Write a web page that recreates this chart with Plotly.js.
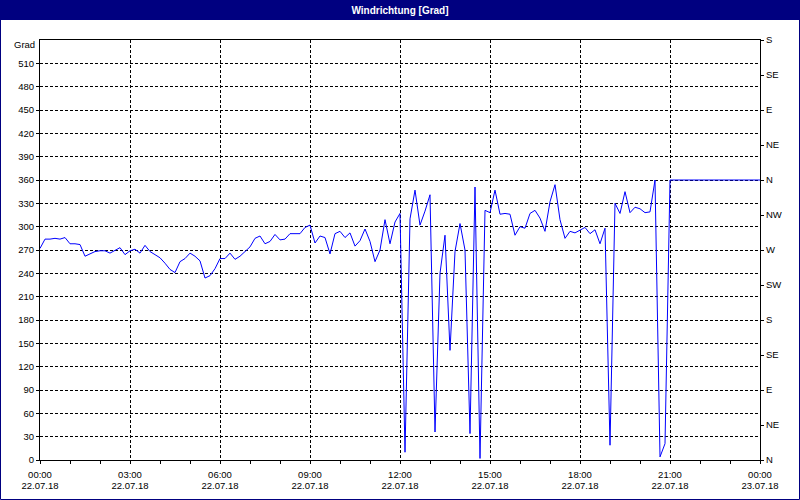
<!DOCTYPE html>
<html>
<head>
<meta charset="utf-8">
<script src="https://cdn.plot.ly/plotly-3.0.1.min.js"></script>
<style>html,body{margin:0;padding:0;background:#fff;}#chart{width:800px;height:500px;}</style>
</head>
<body>
<div id="chart"></div>
<script>
// ---- data ----
var dayStart = "2018-07-22";
var dayEnd = "2018-07-23 00:00";
var times = [
 "00:00","00:10","00:20","00:30","00:40","00:50",
 "01:00","01:10","01:20","01:30","01:40","01:50",
 "02:00","02:10","02:20","02:30","02:40","02:50",
 "03:00","03:10","03:20","03:30","03:40","03:50",
 "04:00","04:10","04:20","04:30","04:40","04:50",
 "05:00","05:10","05:20","05:30","05:40","05:50",
 "06:00","06:10","06:20","06:30","06:40","06:50",
 "07:00","07:10","07:20","07:30","07:40","07:50",
 "08:00","08:10","08:20","08:30","08:40","08:50",
 "09:00","09:10","09:20","09:30","09:40","09:50",
 "10:00","10:10","10:20","10:30","10:40","10:50",
 "11:00","11:10","11:20","11:30","11:40","11:50",
 "12:00","12:10","12:20","12:30","12:40","12:50",
 "13:00","13:10","13:20","13:30","13:40","13:50",
 "14:00","14:10","14:20","14:30","14:40","14:50",
 "15:00","15:10","15:20","15:30","15:40","15:50",
 "16:00","16:10","16:20","16:30","16:40","16:50",
 "17:00","17:10","17:20","17:30","17:40","17:50",
 "18:00","18:10","18:20","18:30","18:40","18:50",
 "19:00","19:10","19:20","19:30","19:40","19:50",
 "20:00","20:10","20:20","20:30","20:40","20:50",
 "21:00"
];
var windDir = [
 272,284,284,285,284,286,
 278,278,277,262,265,268,
 269,269,266,269,273,264,
 269,271,266,276,268,264,
 260,253,245,241,255,259,
 266,262,256,234,237,246,
 259,259,266,258,262,268,
 274,285,288,278,281,290,
 283,284,291,291,291,299,
 302,279,288,286,265,291,
 294,286,292,275,282,297,
 281,255,270,309,278,306,
 317,10,310,347,302,320,
 341,36,240,289,141,268,
 304,270,34,351,2,321,
 318,347,316,317,316,289,
 300,298,317,321,311,294,
 332,354,309,285,294,292,
 296,299,291,296,278,298,
 19,330,317,345,318,325,
 323,318,319,360,4,21,
 360
];
var endValue = 360;

var xTickTimes = ["00:00","03:00","06:00","09:00","12:00","15:00","18:00","21:00","00:00"];
var xTickDates = ["22.07.18","22.07.18","22.07.18","22.07.18","22.07.18","22.07.18","22.07.18","22.07.18","23.07.18"];
var yTicks = [0,30,60,90,120,150,180,210,240,270,300,330,360,390,420,450,480,510,540];
var compassVals = [0,45,90,135,180,225,270,315,360,405,450,495,540];
var compassText = ["N","NE","E","SE","S","SW","W","NW","N","NE","E","SE","S"];
var yUnit = "Grad";
var titleText = "Windrichtung [Grad]";

// ---- build ----
var xs = times.map(function(t){ return dayStart + " " + t; });
xs.push(dayEnd);
var ys = windDir.slice();
ys.push(endValue);

var tickPos = [];
for (var i = 0; i < 8; i++) tickPos.push(dayStart + " " + xTickTimes[i]);
tickPos.push(dayEnd);

var FONT = "Liberation Sans, Arial, sans-serif";
var tf = {family: FONT, size: 9.5, color: "#000"};
var NAVY = "#000080";

function px(x){ return (x - 40) / 720; }
function py(y){ return (460 - y) / 420; }

var traces = [
  {x: xs, y: ys, type: "scatter", mode: "lines", line: {color: "#0000ff", width: 1},
   xaxis: "x", yaxis: "y", showlegend: false, hoverinfo: "x+y"},
  {x: [xs[0]], y: [0], type: "scatter", mode: "markers", marker: {opacity: 0, size: 1},
   xaxis: "x2", yaxis: "y2", showlegend: false, hoverinfo: "skip"}
];

var layout = {
  width: 800, height: 500,
  margin: {l: 40, r: 40, t: 40, b: 40, pad: 0},
  paper_bgcolor: "#fff", plot_bgcolor: "#fff",
  showlegend: false,
  title: {text: "<b>" + titleText + "</b>", font: {family: FONT, size: 10, color: "#fff"},
          x: 0.5, xanchor: "center", xref: "paper", y: 1 - 10/500, yref: "container", yanchor: "middle"},
  xaxis: {
    type: "date", range: [xs[0], dayEnd],
    tickmode: "array", tickvals: tickPos, ticktext: xTickTimes,
    showgrid: true, gridcolor: "#000", gridwidth: 1, griddash: "3px,2px",
    showline: true, linecolor: "#000", linewidth: 1, mirror: true,
    ticks: "outside", ticklen: 3, tickcolor: "#000",
    minor: {dtick: 3600000, ticks: "outside", ticklen: 3, tickcolor: "#000", showgrid: false},
    tickfont: tf, ticklabelstandoff: 3, zeroline: false, fixedrange: true
  },
  xaxis2: {
    type: "date", overlaying: "x", matches: "x", anchor: "y", side: "bottom",
    range: [xs[0], dayEnd],
    tickmode: "array", tickvals: tickPos, ticktext: xTickDates,
    showgrid: false, showline: false, ticks: "", tickfont: tf, ticklabelstandoff: 18,
    zeroline: false, fixedrange: true
  },
  yaxis: {
    range: [0, 540], tickmode: "array", tickvals: yTicks.slice(0, yTicks.length - 1),
    showgrid: true, gridcolor: "#000", gridwidth: 1, griddash: "3px,2px",
    showline: true, linecolor: "#000", linewidth: 1,
    ticks: "outside", ticklen: 3, tickcolor: "#000",
    tickfont: tf, zeroline: false, fixedrange: true
  },
  yaxis2: {
    range: [0, 540], overlaying: "y", anchor: "x", side: "right",
    tickmode: "array", tickvals: compassVals, ticktext: compassText,
    showgrid: false, showline: true, linecolor: "#000", linewidth: 1,
    ticks: "outside", ticklen: 3, tickcolor: "#000",
    tickfont: tf, zeroline: false, fixedrange: true
  },
  annotations: [
    {text: yUnit, xref: "paper", yref: "y", x: 0, y: 540, xanchor: "right", yanchor: "middle",
     xshift: -3, yshift: -4, showarrow: false, font: tf}
  ],
  shapes: [
    {type: "rect", xref: "paper", yref: "paper", x0: px(0), x1: px(800), y0: py(20), y1: py(0),
     fillcolor: NAVY, line: {width: 0}, layer: "above"},
    {type: "rect", xref: "paper", yref: "paper", x0: px(0.5), x1: px(799.5), y0: py(499.5), y1: py(0.5),
     fillcolor: "rgba(0,0,0,0)", line: {color: NAVY, width: 1}, layer: "above"}
  ]
};

Plotly.newPlot("chart", traces, layout, {displayModeBar: false, staticPlot: true});
</script>
</body>
</html>
